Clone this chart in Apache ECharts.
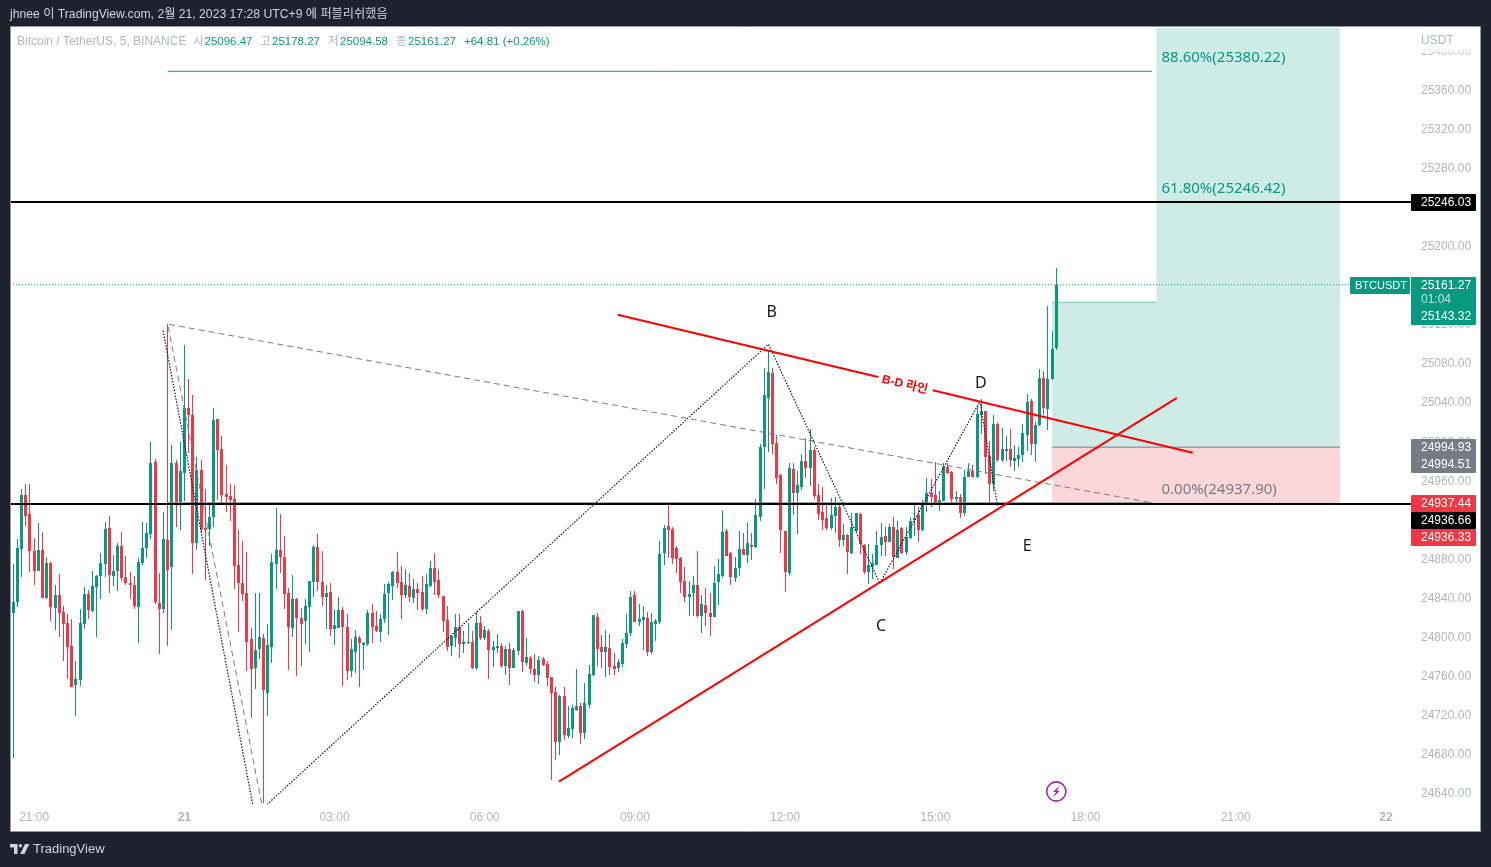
<!DOCTYPE html>
<html>
<head>
<meta charset="utf-8">
<style>html,body{margin:0;padding:0;background:#1e222d}#chart{width:1491px;height:867px}</style>
<script src="https://cdn.jsdelivr.net/npm/echarts@6/dist/echarts.min.js"></script>
</head>
<body>
<div id="chart"></div>
<script>
// 5 minute candles, first one starts at 20:30 and is half hidden by the frame
const opens = [24856.4,
24824.6,24835.9,24890.2,24946.2,24926.4,24888.8,24868.4,24889.9,24840.7,24876.5,
24830.4,24843.8,24826.4,24815.1,24791.5,24751.6,24756.7,24814,24844.8,24827.4,
24852,24863.2,24875.5,24912.4,24863.2,24868.4,24894,24862.2,24856.1,24854,
24831.5,24876.5,24891.9,24906.2,24980,24835.6,24829.4,24900,24872.4,24979,
24939,24968.7,25035.3,25028.1,24897,24971.8,24912.4,24911.4,24923.7,25024,
24993.3,24947.2,24945.2,24942.1,24874.5,24856.1,24845.8,24798.7,24769,24788.5,
24799.7,24743.4,24790.5,24875.5,24889.9,24882.7,24845.8,24810,24839.6,24820.2,
24817.1,24831.4,24857,24892.9,24857,24841.7,24846.8,24808.9,24810,24828.4,
24811,24765.9,24785.4,24799.7,24792.5,24793.5,24825.3,24812,24805.9,24819.2,
24845.8,24853,24867.3,24857,24843.7,24853,24840.7,24849.9,24846.8,24829.4,
24853,24871.4,24859.1,24842.7,24818.1,24791.5,24799.7,24811,24793.5,24794.6,
24795.6,24769,24815.1,24799.7,24806.9,24787.4,24789.5,24791.5,24771,24788.4,
24769,24786.4,24827.4,24774.1,24779.2,24768,24761.8,24778.2,24773.1,24759.8,
24744.4,24693.2,24740.3,24699.3,24706.5,24726,24730,24702.4,24731.1,24761.8,
24821.2,24790.6,24785.4,24789.5,24771.1,24769,24773.1,24793.6,24804.9,24843.8,
24816.2,24818.2,24820.3,24785.4,24814.1,24816.1,24886.8,24914.4,24911.3,24891.9,
24881.6,24858.1,24841.7,24845.8,24854,24822.2,24833.5,24825.3,24821.2,24857,
24863.2,24909.3,24886.8,24861.2,24871.4,24890.9,24884.7,24895,24892.9,24923.6,
24995.3,25045.5,25071.1,24999.4,24966.7,24909.3,24866.3,24972.8,24948.2,24954.4,
24981,24973.8,24992.3,24946.2,24928.8,24922.6,24912.4,24924.7,24933.9,24900.1,
24905.2,24887,24909.3,24926.3,24894.9,24867.3,24872.4,24874.4,24894.9,24904.1,
24898,24912.7,24881.6,24911.7,24887.8,24902.1,24920.5,24925.6,24910.3,24935.9,
24948.2,24946.1,24935.9,24940,24974.8,24969.7,24942,24944.1,24927.7,24964.6,
24970.7,24964.6,25028.1,25032.2,24986.1,24957.4,25018.8,24982,24991.2,24993.3,
24981,24983,24987.1,25007.6,25042.4,24998.4,25017.8,25066,25034.2,25064.9,
25096.47];
const closes = [24825.7,
24836.6,24891.6,24946.2,24924.7,24888.8,24868.4,24889.9,24840.7,24876.5,24831.5,
24843.8,24825.3,24814,24790.5,24749.5,24757.7,24815.1,24844.8,24828.4,24853,
24863.2,24876.5,24911.4,24864.3,24868.4,24894,24861.2,24856.1,24854,24832.5,
24877.6,24891.9,24907.3,24979,24836.6,24829.4,24901.1,24869.4,24979,24939,
24970.8,25035.3,25028.1,24897,24971.8,24911.4,24910.3,24923.7,25023,24992.3,
24946.2,24944.1,24941.1,24873.5,24856.1,24844.8,24795.6,24768,24787.4,24800.7,
24746.5,24792.6,24877.6,24889.9,24882.7,24844.8,24810.3,24839.6,24820.2,24814,
24832.5,24858.1,24892.9,24857,24841.7,24845.8,24808.9,24813,24828.4,24811,
24765.9,24788.4,24800.7,24794.6,24794.6,24825.3,24811,24806.9,24819.2,24844.8,
24855,24867.3,24856,24843.7,24854,24841.7,24849.9,24845.8,24829.4,24855,
24871.4,24857,24843.7,24817.1,24790.5,24801.7,24811,24793.5,24795.6,24795.6,
24769,24815.1,24799.7,24807.9,24787.4,24790.5,24791.5,24771,24788.4,24769,
24787.4,24827.4,24775.1,24780.2,24768,24761.8,24777.2,24772,24758.7,24743.4,
24693.2,24740.3,24700.3,24707.5,24728,24730,24702.4,24733.1,24762.8,24823.3,
24788.4,24785.4,24790.6,24770.1,24768,24775.2,24794.7,24804.9,24841.8,24816.2,
24819.2,24821.3,24785.4,24816.2,24817.2,24885.7,24912.4,24910.3,24881.6,24880.6,
24857,24841.7,24844.8,24854,24822.2,24834.5,24825.3,24821.2,24856,24865.3,
24908.3,24883.7,24862.2,24871.4,24890.9,24884.7,24897,24892.9,24925.7,24995.3,
25048.6,25072.2,24998.4,24963.6,24910.3,24867.3,24973.8,24948.2,24956.4,24981,
24973.8,24992.3,24945.1,24926.7,24920.6,24912.4,24925.7,24933.9,24900.1,24905.2,
24887.8,24912.7,24927.4,24895.6,24867.3,24874.4,24875.8,24894.9,24903.1,24898,
24912.7,24882.6,24910.3,24886.7,24903.1,24919.5,24922.6,24910.3,24936.9,24948.2,
24944.1,24935.9,24941,24974.8,24968.7,24942,24944.1,24927.7,24964.6,24970.7,
24964.6,25029.1,25032.2,24985,24957.4,25018.8,24982,24993.3,24993.3,24982,
24984,24987.1,25009.6,25041.4,24998.4,25017.8,25066,25034.6,25065,25095.7,
25161.27];
const highs = [24870,
24875.2,24900.8,24952,24957.1,24957.1,24901.8,24917.2,24908.3,24882.7,24877.2,
24854,24865.3,24832.5,24824,24819.2,24776.2,24829.4,24852,24848.9,24868.4,
24864.3,24886.8,24918.5,24924.7,24884.7,24897,24908.3,24883.7,24867.3,24863.2,
24881.7,24918.5,24917.5,25000.4,24983.1,24866.3,24928.8,25121,24997.4,24982,
25000.4,25099.8,25065,25048.6,24985.1,24982,24952.3,24939,25035.3,25024,
25006.6,24976.9,24957.5,24956.4,24910.3,24899.1,24887.8,24810,24845.8,24845.8,
24803.8,24814,24885.8,24932.9,24926.7,24904.2,24851,24864.2,24840.7,24830.4,
24839.6,24858.1,24895,24906.2,24888.8,24854,24856,24828.4,24841.7,24831.4,
24824.3,24798.7,24807.9,24801.7,24795.3,24828.4,24834.5,24827.4,24824,24855,
24857,24868.3,24887.8,24873.4,24870.4,24866.3,24860.1,24856,24863.2,24865.2,
24878.6,24886.8,24869.3,24842.7,24832.5,24802.8,24824.3,24824.3,24806.9,24815.1,
24806.9,24826.3,24822.2,24812,24808.9,24796.6,24803.8,24794.6,24791.5,24794.6,
24789.5,24827.4,24828.4,24799.7,24781.3,24783.3,24781.3,24780.2,24776.1,24759.8,
24749.5,24741.3,24749.5,24730,24731.1,24767.9,24733.1,24753.6,24772,24823.3,
24825.3,24802.8,24808,24803.9,24784.4,24778.3,24798.8,24824.4,24847.9,24847.9,
24834.6,24832.6,24826.4,24825.4,24819.2,24899.1,24915.4,24939,24912.7,24893.9,
24882.7,24872.4,24858.1,24863.2,24888.8,24843.7,24850.9,24845.8,24873.5,24880.6,
24930.8,24911.3,24887.8,24882.7,24909.3,24907.3,24918.5,24907.3,24942.1,24998.4,
25076.2,25093.7,25076.2,25007.6,24967.7,24909.3,24979,24979,24970.8,24988.2,
25004.6,25013.8,24995.3,24957.4,24954.4,24938,24943.1,24944.1,24938,24916.5,
24906.2,24928,24928,24928,24895.6,24895.6,24885.4,24908.6,24917.1,24912.7,
24916.1,24922.9,24919.5,24913.4,24912.7,24922.9,24937.6,24933.2,24941.3,24963.5,
24962.2,24979.9,24950.2,24978.9,24978.2,24970.7,24950.2,24946.8,24971.7,24978.9,
24976.9,25038.3,25044.5,25032.2,25001.4,25027.8,25019.9,25014.8,25006.6,25013.7,
24997.3,24994.6,25018.9,25049.6,25044.5,25020.2,25075.2,25073.1,25139.7,25114.1,
25178.27];
const lows = [24810,
24676.8,24831.5,24861.5,24914.4,24866.6,24854,24867.7,24840,24839.3,24816.5,
24807.9,24800.7,24776.2,24757.7,24749.5,24719.8,24750.6,24808.9,24819.2,24826.4,
24800.7,24839.7,24862.2,24845.8,24853,24847.9,24858.1,24854,24839.7,24829.4,
24794.6,24874.5,24881.7,24901.1,24834.6,24783.3,24825.3,24791.5,24807.9,24913.4,
24910.3,24940,24989.2,24865.3,24889.9,24907.3,24859.1,24894,24913.4,24941.1,
24937,24928.8,24919.6,24849.9,24805.9,24837.6,24766,24717.8,24747.5,24778.2,
24630,24719.8,24774.1,24849.9,24866.3,24829.4,24766.9,24800.7,24760.8,24771,
24793.5,24785.4,24841.7,24847.8,24832.5,24808.9,24801.7,24792.5,24809.3,24750.5,
24756.7,24759.8,24763.9,24749.5,24766.9,24791.5,24794.6,24805.9,24795.6,24815.1,
24802.8,24838.6,24850.9,24819.2,24840.7,24836.6,24835.5,24828.4,24827.4,24824.3,
24851.9,24843.7,24840.7,24805.9,24786.4,24781.3,24790.5,24779.2,24784.3,24793.5,
24768,24766.9,24797.7,24797.7,24757.7,24770,24784.3,24769,24761.8,24751.6,
24768.3,24782.3,24764.9,24771,24762.8,24754.6,24752.6,24771,24750.5,24654.3,
24674.8,24679.9,24695.2,24697.3,24697.3,24725,24691.1,24696.3,24728,24760.8,
24771,24769.1,24759.8,24761.9,24761.9,24765,24770.1,24789.5,24801.8,24815.5,
24812.1,24787.5,24781.3,24783.4,24796.7,24813.7,24874.5,24881.6,24875.5,24866.3,
24845.8,24836.6,24822.2,24822.2,24820.2,24804.8,24812,24801.8,24820.5,24833.5,
24861.2,24883,24854,24857.1,24863.2,24884,24876.5,24879.6,24891.9,24919.5,
24952.3,24990.2,24988.2,24957.4,24886.8,24846.8,24864.2,24925.7,24906.2,24951.3,
24963.6,24955.4,24942.1,24920.6,24910.3,24910.3,24910.3,24907.2,24892.9,24893.9,
24865.3,24885.4,24907.6,24885.4,24864.9,24854.6,24859.8,24873.8,24883.7,24883.7,
24897.3,24870,24880.9,24885.4,24884.7,24900.7,24904.1,24898,24909.3,24928.7,
24933.8,24935.2,24929.7,24939.3,24967.3,24936.6,24936.6,24922.6,24924.6,24963.9,
24963.9,24963.5,25008.6,24967.3,24935.9,24950.2,24979.3,24979.9,24981,24974.8,
24970.7,24974.8,24979.9,24991.2,24987.1,24979.9,25017.1,25027.7,25012.7,25064.2,
25094.58];

const slotCount = 337;
const timeSlots = [6,42,78,114,150,186,222,258,294,330];
const timeLabels = ['21:00','21','03:00','06:00','09:00','12:00','15:00','18:00','21:00','22'];
const dayLabels = ['21','22'];
const priceTicks = [24640,24680,24720,24760,24800,24840,24880,24920,24960,25000,25040,25080,25120,25160,25200,25240,25280,25320,25360,25400];
const priceMin = 24629.7, priceMax = 25424.5;

// drawings, x is bars from the first whole candle
const level1 = 25246.03, level2 = 24936.66, lastPrice = 25161.27;
const fibX = [37, 273];
const fib886 = 25379.9, fib618 = 25246.42, fib0 = 24937.9;
const dashX = [60, 37, 273], dashP = [24620, 25121, 24937.9];
const waveX = [35.9, 57.9, 181, 207.7, 231.7, 235.9];
const waveP = [25114.2, 24617.5, 25100.3, 24855.4, 25041.8, 24935];
const riseX = [130.8, 278.9], riseP = [24652.3, 25045.5];
const bdLeftX = [144.9, 207.3], bdLeftP = [25130.5, 25066.7];
const bdRightX = [220.4, 282.7], bdRightP = [25053.2, 24989.2];
const entryPrice = 24994.93, stopPrice = 24937.44, targetPrice = 25143.32;
const posX = [249, 274, 318];

const waveNames = ['B','C','D','E'];
const waveNameX = [181.8, 208, 231.9, 243];
const waveNameP = [25132.6, 24811, 25059.9, 24893];
const fibTexts = ['88.60%(25380.22)','61.80%(25246.42)','0.00%(24937.90)'];
const fibTextP = [25393.7, 25259.6, 24951.3];
const fibTextX = 275.1;
const fibTextColors = ['#089981','#089981','#787b86'];

const UP = '#089981', DOWN = '#f23645', GREY = '#787b86', AXIS = '#b2b5be';
const FONT = '"Liberation Sans","Noto Sans CJK KR",sans-serif';

const slots = Array.from({length: slotCount}, (_, i) => String(i));

function drawLine(xs, ps, color, width, type, z) {
  return {
    type: 'line', xAxisIndex: 1, yAxisIndex: 0, silent: true, showSymbol: false, animation: false, z: z || 5,
    data: xs.map((x, i) => [x, ps[i]]),
    lineStyle: {color: color, width: width, type: type || 'solid'}
  };
}

function text(x, y, str, color, size, weight, align) {
  return {type: 'text', x: x, y: y, z: 60, silent: true, style: {
    text: str, fill: color, font: (weight || 'normal') + ' ' + size + 'px ' + FONT,
    textAlign: align || 'left', textVerticalAlign: 'middle'
  }};
}
function box(x, y, w, h, color, z) {
  return {type: 'rect', z: z || 55, silent: true, shape: {x: x, y: y, width: w, height: h, r: 1}, style: {fill: color}};
}

// the stock candlestick snaps bodies unevenly at this width, so 3px bodies and 1px wicks by hand
function renderCandle(params, api) {
  const i = api.value(0), o = api.value(1), c = api.value(2);
  const cx = Math.floor(api.coord([i, o])[0]);
  const yOpen = Math.round(api.coord([i, o])[1]), yClose = Math.round(api.coord([i, c])[1]);
  const yLow = Math.round(api.coord([i, api.value(3)])[1]), yHigh = Math.round(api.coord([i, api.value(4)])[1]);
  const top = Math.min(yOpen, yClose), bottom = Math.max(yOpen, yClose);
  const fill = c >= o ? UP : DOWN;
  return {type: 'group', children: [
    {type: 'rect', shape: {x: cx, y: yHigh, width: 1, height: Math.max(yLow - yHigh, 1)}, style: {fill: fill}},
    {type: 'rect', shape: {x: cx - 1, y: top, width: 3, height: Math.max(bottom - top, 1)}, style: {fill: fill}}
  ]};
}

const graphics = [
  // plot paper, under the series
  {type: 'rect', z: -1, silent: true, shape: {x: 11, y: 27, width: 1470, height: 805}, style: {fill: '#fff'}},
  // left strip hides what the grid leaves past the frame
  {type: 'rect', z: 50, silent: true, shape: {x: 0, y: 0, width: 10.5, height: 867}, style: {fill: '#1e222d'}},
  {type: 'rect', z: 51, silent: true, shape: {x: 10.5, y: 26.5, width: 1470, height: 805}, style: {fill: 'none', stroke: '#9598a1', lineWidth: 1}},
  // the scale fades out under USDT
  {type: 'rect', z: 52, silent: true, shape: {x: 1414, y: 28, width: 64, height: 27}, style: {
    fill: {type: 'linear', x: 0, y: 0, x2: 0, y2: 1, colorStops: [{offset: 0, color: '#fff'}, {offset: 0.72, color: '#fff'}, {offset: 1, color: 'rgba(255,255,255,0)'}]}
  }},
  text(1421, 41, 'USDT', AXIS, 12),
  text(10, 14.5, 'jhnee 이 TradingView.com, 2월 21, 2023 17:28 UTC+9 에 퍼블리쉬했음', '#d1d4dc', 12.2),
  text(17, 41.5, 'Bitcoin / TetherUS, 5, BINANCE', AXIS, 12),
  text(193, 41.5, '시', AXIS, 11.5), text(204.5, 41.5, '25096.47', UP, 11.5),
  text(260, 41.5, '고', AXIS, 11.5), text(272, 41.5, '25178.27', UP, 11.5),
  text(328, 41.5, '저', AXIS, 11.5), text(340, 41.5, '25094.58', UP, 11.5),
  text(396, 41.5, '종', AXIS, 11.5), text(408, 41.5, '25161.27', UP, 11.5),
  text(464, 41.5, '+64.81 (+0.26%)', UP, 11.5),

  box(1411, 194, 65, 17, '#000'), text(1421, 202.5, '25246.03', '#fff', 12),
  box(1350, 277, 60, 17, UP), text(1355, 285.5, 'BTCUSDT', '#fff', 11),
  box(1411, 277, 65, 48, UP),
  text(1421, 285.5, '25161.27', '#fff', 12), text(1421, 300, '01:04', '#b9e3db', 12), text(1421, 316.5, '25143.32', '#fff', 12),
  box(1411, 439, 65, 34, GREY), text(1421, 448, '24994.93', '#fff', 12), text(1421, 464.5, '24994.51', '#fff', 12),
  box(1411, 495, 65, 17, DOWN), text(1421, 503.5, '24937.44', '#fff', 12),
  box(1411, 512, 65, 17, '#000'), text(1421, 520.5, '24936.66', '#fff', 12),
  box(1411, 529, 65, 17, DOWN), text(1421, 537.5, '24936.33', '#fff', 12),

  // news flash icon
  {type: 'circle', z: 60, silent: true, shape: {cx: 1056.3, cy: 791.5, r: 9.6}, style: {fill: '#fff', stroke: '#9c27b0', lineWidth: 1.6}},
  {type: 'polygon', z: 61, silent: true, shape: {points: [[1059.5,785.5],[1053,792],[1056,792],[1053,797.5],[1059.8,790.8],[1056.8,790.8]]}, style: {fill: '#9c27b0'}},

  // TradingView mark
  {type: 'polygon', z: 60, silent: true, shape: {points: [[10,844],[17.5,844],[17.5,854],[14,854],[14,847.4],[10,847.4]]}, style: {fill: '#d1d4dc'}},
  {type: 'circle', z: 60, silent: true, shape: {cx: 20.4, cy: 845.7, r: 1.7}, style: {fill: '#d1d4dc'}},
  {type: 'polygon', z: 60, silent: true, shape: {points: [[25,844],[29.4,844],[24.4,854],[20.2,854]]}, style: {fill: '#d1d4dc'}},
  text(33, 849.5, 'TradingView', '#d1d4dc', 13)
];

// scatter fades by default and the labels fade with it
const noMark = {color: 'rgba(0,0,0,0)', opacity: 1};

const option = {
  animation: false,
  backgroundColor: '#1e222d',
  tooltip: {show: false},
  graphic: {elements: graphics},
  grid: {left: 7.04, top: 27.75, width: 1405.96, height: 776, containLabel: false},
  xAxis: [{
    type: 'category', data: slots, boundaryGap: true,
    axisLine: {show: false}, axisTick: {show: false}, splitLine: {show: false},
    axisLabel: {
      color: AXIS, fontFamily: FONT, fontSize: 12, margin: 8, hideOverlap: false,
      interval: (i) => timeSlots.includes(i),
      formatter: (v) => {
        const s = timeLabels[timeSlots.indexOf(Number(v))];
        return dayLabels.includes(s) ? '{day|' + s + '}' : s;
      },
      rich: {day: {fontWeight: 'bold', color: AXIS, fontFamily: FONT, fontSize: 12}}
    }
  }, {
    type: 'value', show: false, min: -1.5, max: 335.5, splitLine: {show: false}
  }],
  yAxis: [{
    type: 'value', position: 'right', min: priceMin, max: priceMax, scale: true,
    axisLine: {show: false}, axisTick: {show: false}, splitLine: {show: false},
    axisLabel: {
      color: AXIS, fontFamily: FONT, fontSize: 12, margin: 8, showMinLabel: true, showMaxLabel: true,
      customValues: priceTicks, formatter: (v) => v.toFixed(2)
    }
  }],
  series: [
    // long/short position boxes
    {
      type: 'line', xAxisIndex: 1, yAxisIndex: 0, data: [], silent: true,
      markArea: {silent: true, data: [
        [{coord: [posX[0], entryPrice], itemStyle: {color: 'rgba(8,153,129,0.2)'}}, {coord: [posX[1], targetPrice]}],
        [{coord: [posX[1], entryPrice], itemStyle: {color: 'rgba(8,153,129,0.2)'}}, {coord: [posX[2], priceMax]}],
        [{coord: [posX[0], stopPrice], itemStyle: {color: 'rgba(242,54,69,0.2)'}}, {coord: [posX[2], entryPrice]}]
      ]}
    },
    {
      type: 'custom', xAxisIndex: 0, yAxisIndex: 0, z: 3, silent: true, clip: true,
      renderItem: renderCandle,
      encode: {x: 0, y: [1, 2, 3, 4]},
      data: opens.map((o, i) => [i, o, closes[i], lows[i], highs[i]])
    },
    drawLine(fibX, [fib886, fib886], UP, 1),
    drawLine(fibX, [fib618, fib618], UP, 1),
    drawLine(fibX, [fib0, fib0], GREY, 1),
    drawLine(dashX, dashP, GREY, 1, [6, 4]),
    drawLine(waveX, waveP, '#131722', 1.2, [1.5, 1.5]),
    drawLine([posX[0], posX[1]], [targetPrice, targetPrice], 'rgba(8,153,129,0.5)', 1),
    drawLine([posX[0], posX[2]], [entryPrice, entryPrice], GREY, 1),
    drawLine([-1.5, 335.5], [lastPrice, lastPrice], UP, 1, [1, 2]),
    drawLine([-1.5, 335.5], [level1, level1], '#000', 2),
    drawLine([-1.5, 335.5], [level2, level2], '#000', 2),
    drawLine(riseX, riseP, '#ff0000', 2),
    drawLine(bdLeftX, bdLeftP, '#ff0000', 2),
    drawLine(bdRightX, bdRightP, '#ff0000', 2),
    {
      type: 'scatter', xAxisIndex: 1, yAxisIndex: 0, silent: true, symbolSize: 1, z: 7,
      itemStyle: noMark,
      data: waveNames.map((n, i) => ({name: n, value: [waveNameX[i], waveNameP[i]]})),
      label: {show: true, position: 'inside', formatter: '{b}', color: '#131722', fontFamily: '"Noto Sans",sans-serif', fontSize: 16}
    },
    {
      type: 'scatter', xAxisIndex: 1, yAxisIndex: 0, silent: true, symbolSize: 1, z: 7,
      itemStyle: noMark,
      data: [{name: 'B-D 라인', value: [213.7, 25058.9]}],
      label: {show: true, position: 'inside', rotate: -13.5, formatter: '{b}', color: '#ff0000', fontFamily: FONT, fontSize: 12, fontWeight: 'bold'}
    },
    {
      type: 'scatter', xAxisIndex: 1, yAxisIndex: 0, silent: true, symbolSize: 1, z: 7,
      itemStyle: noMark,
      data: fibTexts.map((t, i) => ({
        name: t, value: [fibTextX, fibTextP[i]],
        label: {color: fibTextColors[i]}
      })),
      label: {show: true, position: 'right', distance: 0, formatter: '{b}', fontFamily: '"Noto Sans",sans-serif', fontSize: 15}
    }
  ]
};

echarts.init(document.getElementById('chart')).setOption(option);
</script>
</body>
</html>
